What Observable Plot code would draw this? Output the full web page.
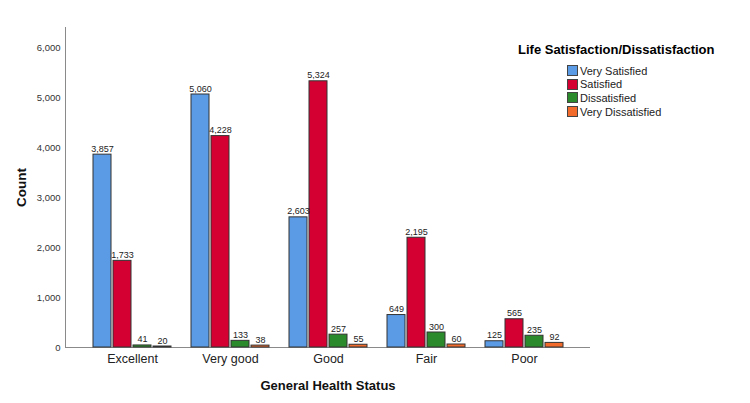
<!DOCTYPE html>
<html>
<head>
<meta charset="utf-8">
<script src="https://cdn.jsdelivr.net/npm/d3@7"></script>
<script src="https://cdn.jsdelivr.net/npm/@observablehq/plot@0.6"></script>
<style>
  html, body { margin: 0; padding: 0; background: #fff; }
  #chart { position: relative; width: 750px; height: 403px; font-family: "Liberation Sans", Arial, sans-serif; }
  #chart svg { position: absolute; left: 0; top: 0; }
  .legend { position: absolute; left: 518px; top: 42px; color: #000; }
  .legend .title { font-weight: bold; font-size: 13px; line-height: 16px; white-space: nowrap; }
  .legend .items { margin-left: 49px; margin-top: 6px; }
  .legend .item { display: flex; align-items: center; height: 13.6px; font-size: 11px; color: #222; white-space: nowrap; }
  .legend .sw { width: 9px; height: 9px; border: 1px solid #444; margin-right: 2px; }
</style>
</head>
<body>
<div id="chart"></div>
<script>
// Health status groups and life-satisfaction series
const groups = ["Excellent", "Very good", "Good", "Fair", "Poor"];
const series = ["Very Satisfied", "Satisfied", "Dissatisfied", "Very Dissatisfied"];
const colors = ["#5B9BE5", "#D50032", "#2B8A2B", "#F26B2B"];

// Counts per group, one array per series (same order as groups)
const verySatisfied    = [3857, 5060, 2603, 649, 125];
const satisfied        = [1733, 4228, 5324, 2195, 565];
const dissatisfied     = [41, 133, 257, 300, 235];
const veryDissatisfied = [20, 38, 55, 60, 92];

const yTicks = [0, 1000, 2000, 3000, 4000, 5000, 6000];

const seriesValues = [verySatisfied, satisfied, dissatisfied, veryDissatisfied];
const rows = [];
groups.forEach((g, gi) => {
  series.forEach((s, si) => {
    rows.push({group: g, series: s, count: seriesValues[si][gi]});
  });
});

const fmt = d3.format(",");

// Shared frame so the axis layer and the bar layer line up
const frame = {
  width: 750,
  height: 403,
  marginLeft: 65,
  marginRight: 160,
  marginTop: 27,
  marginBottom: 56,
  style: {fontFamily: "Liberation Sans, Arial, sans-serif", background: "transparent"}
};
const yScale = {domain: [0, 6400]};

// Axis layer: y ticks, axis lines and axis titles
const axes = Plot.plot({
  ...frame,
  y: {...yScale, axis: null},
  marks: [
    Plot.axisY({
      anchor: "left", ticks: yTicks, tickFormat: fmt,
      tickSize: 0, tickPadding: 5, fontSize: 9.5, label: null, fill: "#333"
    }),
    Plot.frame({anchor: "left", stroke: "#8a8a8a"}),
    Plot.ruleY([0], {stroke: "#8a8a8a"}),
    Plot.text(["General Health Status"], {
      frameAnchor: "bottom", dy: 42, text: d => d, lineAnchor: "bottom",
      fontWeight: "bold", fontSize: 13, fill: "#111"
    }),
    Plot.text(["Count"], {
      frameAnchor: "left", dx: -44, rotate: -90, text: d => d,
      textAnchor: "middle", fontWeight: "bold", fontSize: 13.5, fill: "#111"
    })
  ]
});

// Bar layer: grouped bars faceted by health status
const bars = Plot.plot({
  ...frame,
  fx: {
    domain: groups,
    paddingInner: 0.186,
    paddingOuter: 0.263,
    label: null,
    axis: null
  },
  x: {domain: series, axis: null, paddingInner: 0, paddingOuter: 0},
  y: {...yScale, axis: null},
  color: {domain: series, range: colors},
  marks: [
    Plot.barY(rows, {
      fx: "group", x: "series", y: "count", fill: "series",
      stroke: "#333", strokeWidth: 1, insetLeft: 1, insetRight: 1
    }),
    Plot.text(rows, {
      fx: "group", x: "series", y: "count", text: d => fmt(d.count),
      lineAnchor: "bottom", dy: -3, fontSize: 9, fill: "#222"
    }),
    Plot.axisFx({
      anchor: "bottom", tickSize: 0, tickPadding: 7,
      fontSize: 12.5, label: null, fill: "#222"
    })
  ]
});

const chart = document.getElementById("chart");
chart.appendChild(axes);
chart.appendChild(bars);

// Legend
const legend = document.createElement("div");
legend.className = "legend";
legend.innerHTML = `<div class="title">Life Satisfaction/Dissatisfaction</div>` +
  `<div class="items">` +
  series.map((s, i) => `<div class="item"><span class="sw" style="background:${colors[i]}"></span>${s}</div>`).join("") +
  `</div>`;
chart.appendChild(legend);
</script>
</body>
</html>
